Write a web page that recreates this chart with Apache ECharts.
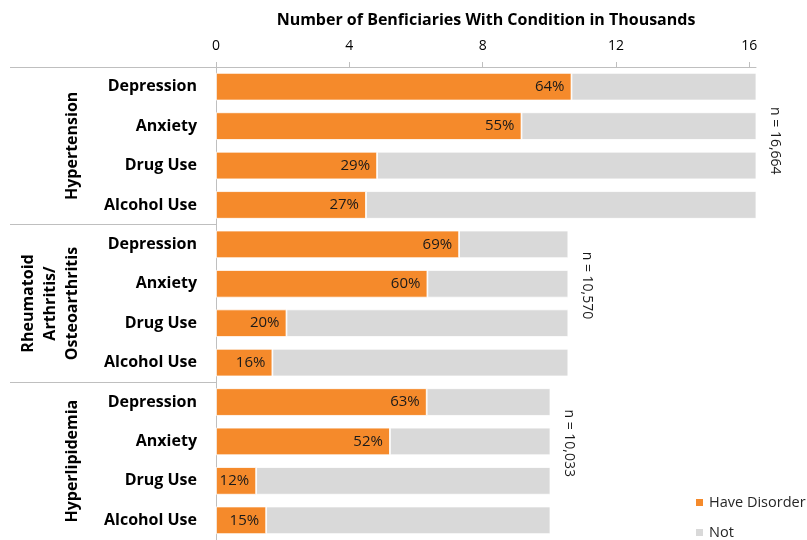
<!DOCTYPE html>
<html>
<head>
<meta charset="utf-8">
<script src="https://cdn.jsdelivr.net/npm/echarts@6/dist/echarts.min.js"></script>
<style>
  html, body { margin: 0; padding: 0; background: #fff; }
  #chart { width: 807px; height: 540px; }
</style>
</head>
<body>
<div id="chart"></div>
<script>
// Conditions (groups) and their beneficiary totals, in thousands
const groups = ['Hypertension', 'Rheumatoid\nArthritis/\nOsteoarthritis', 'Hyperlipidemia'];
const groupTotals = [16.664, 10.570, 10.033];
const groupTotalLabels = ['n = 16,664', 'n = 10,570', 'n = 10,033'];

// Behavioural disorders shown within each condition
const disorders = ['Depression', 'Anxiety', 'Drug Use', 'Alcohol Use'];

// Share of each group with the disorder (%), one row per group
const pctHypertension = [64, 55, 29, 27];
const pctArthritis = [69, 60, 20, 16];
const pctHyperlipidemia = [63, 52, 12, 15];

const xTicks = [0, 4, 8, 12, 16];

const pctRows = [pctHypertension, pctArthritis, pctHyperlipidemia];
const categories = [];
const haveVals = [];
const notVals = [];
const pctVals = [];
pctRows.forEach((row, g) => {
  row.forEach((p, i) => {
    categories.push(disorders[i]);
    const have = groupTotals[g] * p / 100;
    haveVals.push(have);
    notVals.push(groupTotals[g] - have);
    pctVals.push(p);
  });
});

const FONT = '"Open Sans", sans-serif';
const ORANGE = '#F58A2B';
const GREY = '#D9D9D9';
const LINE = '#BFBFBF';
const X_MAX = 16.2;

const chart = echarts.init(document.getElementById('chart'));
chart.setOption({
  animation: false,
  textStyle: { fontFamily: FONT },
  grid: { left: 216, right: 51, top: 67, bottom: -3, containLabel: false },
  legend: {
    orient: 'vertical',
    left: 694,
    bottom: 0,
    padding: 0,
    icon: 'rect',
    itemWidth: 9,
    itemHeight: 9,
    itemGap: 15,
    textStyle: { fontFamily: FONT, fontSize: 14.5, color: '#262626' },
    data: ['Have Disorder', 'Not']
  },
  xAxis: {
    type: 'value',
    position: 'top',
    min: 0,
    max: X_MAX,
    interval: 4,
    name: 'Number of Benficiaries With Condition in Thousands',
    nameLocation: 'middle',
    nameGap: 39,
    nameTextStyle: { fontFamily: FONT, fontSize: 16, fontWeight: 'bold', color: '#000' },
    axisLine: { show: true, lineStyle: { color: LINE, width: 1 } },
    axisTick: { show: true, length: 5, lineStyle: { color: LINE }, customValues: xTicks },
    axisLabel: { fontFamily: FONT, fontSize: 14, color: '#000', margin: 14, customValues: xTicks },
    splitLine: { show: false }
  },
  yAxis: [
    {
      type: 'category',
      inverse: true,
      data: categories,
      axisLine: { show: false },
      axisTick: { show: false },
      axisLabel: { interval: 0, fontFamily: FONT, fontSize: 16, fontWeight: 'bold', color: '#000', margin: 19 }
    },
    {
      type: 'category',
      inverse: true,
      position: 'left',
      data: groups,
      axisLine: { show: true, lineStyle: { color: LINE, width: 1 } },
      axisTick: { show: true, interval: 0, length: 206, lineStyle: { color: LINE, width: 1 } },
      axisLabel: {
        interval: 0,
        rotate: 90,
        margin: 133,
        fontFamily: FONT,
        fontSize: 16,
        fontWeight: 'bold',
        color: '#000',
        lineHeight: 22
      }
    }
  ],
  series: [
    {
      name: 'Have Disorder',
      type: 'bar',
      stack: 'total',
      yAxisIndex: 0,
      barCategoryGap: '30%',
      data: haveVals,
      itemStyle: { color: ORANGE, borderColor: '#fff', borderWidth: 0.8 },
      label: {
        show: true,
        position: 'insideRight',
        distance: 7,
        fontFamily: FONT,
        fontSize: 15,
        color: '#1a1a1a',
        formatter: p => pctVals[p.dataIndex] + '%'
      }
    },
    {
      name: 'Not',
      type: 'bar',
      stack: 'total',
      yAxisIndex: 0,
      barCategoryGap: '30%',
      data: notVals,
      itemStyle: { color: GREY, borderColor: '#fff', borderWidth: 0.8 }
    }
  ]
});

// Group size labels, placed just past the end of each group's bars
const nLift = [5, 18, 18];
const nGraphics = groups.map((g, gi) => {
  const end = Math.min(groupTotals[gi], X_MAX);
  const x = chart.convertToPixel({ xAxisIndex: 0 }, end) + 19;
  const yTop = chart.convertToPixel({ yAxisIndex: 0 }, gi * 4 + 1);
  const yBot = chart.convertToPixel({ yAxisIndex: 0 }, gi * 4 + 2);
  const y = (yTop + yBot) / 2 - nLift[gi];
  return {
    type: 'text',
    x: x,
    y: y,
    rotation: -Math.PI / 2,
    style: {
      text: groupTotalLabels[gi],
      fontFamily: FONT,
      fontSize: 14,
      fill: '#1a1a1a',
      align: 'center',
      verticalAlign: 'middle'
    }
  };
});
chart.setOption({ graphic: nGraphics });
</script>
</body>
</html>
